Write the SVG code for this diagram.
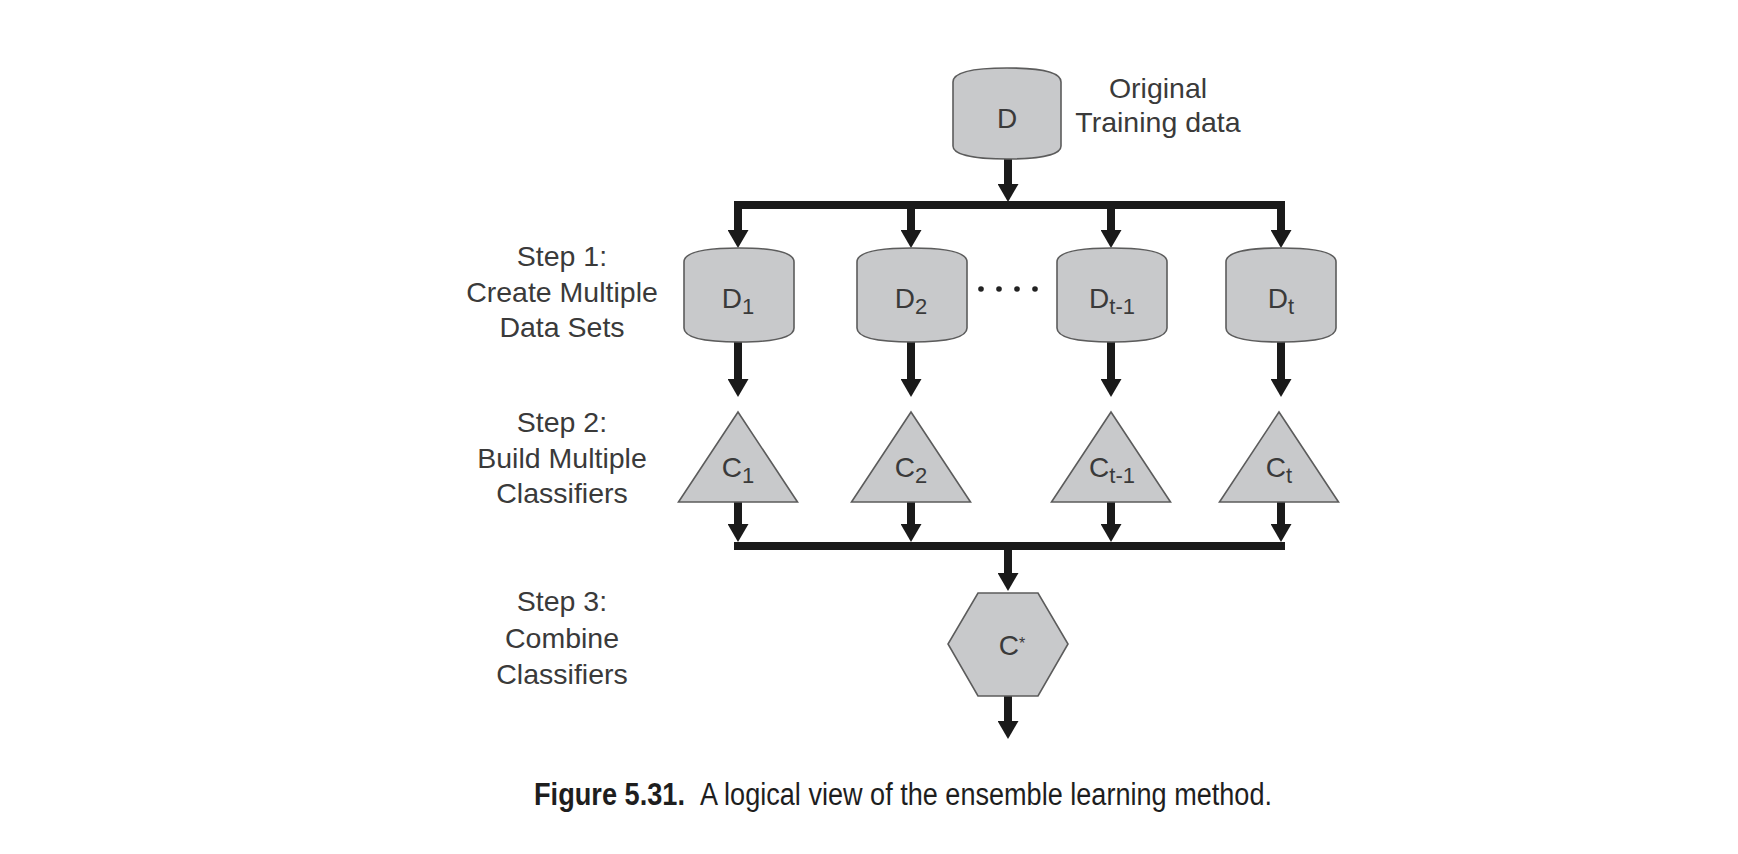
<svg xmlns="http://www.w3.org/2000/svg" xmlns:xlink="http://www.w3.org/1999/xlink" width="1738" height="854" viewBox="0 0 1738 854">
<style>
.shape{fill:#c8c9cb;stroke:#5c5c5c;stroke-width:1.6}
.conn{fill:none;stroke:#1a1a1a;stroke-width:8;marker-end:url(#ah)}
.bus{fill:none;stroke:#1a1a1a;stroke-width:8;stroke-linecap:square}
.nt{font-family:"Liberation Sans",Arial,sans-serif;font-size:28px;fill:#3a3a3a;text-anchor:middle}
.lbl{font-family:"Liberation Sans",Arial,sans-serif;font-size:28.5px;fill:#3a3a3a;text-anchor:middle}
.sub{font-size:22px}
.cap{font-family:"Liberation Sans",Arial,sans-serif;font-size:31px;fill:#1e1e1e}
</style>
<defs>
<marker id="ah" markerUnits="userSpaceOnUse" markerWidth="18" markerHeight="21" viewBox="0 0 18 21" refX="8" refY="10.5" orient="auto">
<path d="M0,0 L18,10.5 L0,21 Z" fill="#1a1a1a"/>
</marker>
<path id="cyl" d="M-55,14 C-55,3 -28,0 0,0 C28,0 55,3 55,14 V80 C55,91 28,94 0,94 C-28,94 -55,91 -55,80 Z"/>
</defs>
<rect width="1738" height="854" fill="#ffffff"/>

<g id="connectors">
<path class="conn" d="M1008,159 V192"/>
<path class="bus" d="M738,205 H1281"/>
<path class="conn" d="M738,205 V238"/>
<path class="conn" d="M911,205 V238"/>
<path class="conn" d="M1111,205 V238"/>
<path class="conn" d="M1281,205 V238"/>
<path class="conn" d="M738,342 V387"/>
<path class="conn" d="M911,342 V387"/>
<path class="conn" d="M1111,342 V387"/>
<path class="conn" d="M1281,342 V387"/>
<path class="conn" d="M738,502 V532"/>
<path class="conn" d="M911,502 V532"/>
<path class="conn" d="M1111,502 V532"/>
<path class="conn" d="M1281,502 V532"/>
<path class="bus" d="M738,546 H1281"/>
<path class="conn" d="M1008,546 V581"/>
<path class="conn" d="M1008,696 V729"/>
</g>

<g id="node-D">
<path class="shape" d="M953,82 C953,71 980,68 1007,68 C1034,68 1061,71 1061,82 V146 C1061,156 1034,159 1007,159 C980,159 953,156 953,146 Z"/>
<text class="nt" x="1007" y="128">D</text>
</g>
<g id="label-original">
<text class="lbl" x="1158" y="98">Original</text>
<text class="lbl" x="1158" y="132">Training data</text>
</g>

<g id="node-D1">
<use xlink:href="#cyl" class="shape" x="739" y="248"/>
<text class="nt" x="738" y="308">D<tspan class="sub" dy="6">1</tspan></text>
</g>
<g id="node-D2">
<use xlink:href="#cyl" class="shape" x="912" y="248"/>
<text class="nt" x="911" y="308">D<tspan class="sub" dy="6">2</tspan></text>
</g>
<g id="dots">
<circle cx="981" cy="289" r="2.8" fill="#222"/>
<circle cx="999" cy="289" r="2.8" fill="#222"/>
<circle cx="1017" cy="289" r="2.8" fill="#222"/>
<circle cx="1035" cy="289" r="2.8" fill="#222"/>
</g>
<g id="node-Dt-1">
<use xlink:href="#cyl" class="shape" x="1112" y="248"/>
<text class="nt" x="1112" y="308">D<tspan class="sub" dy="6">t-1</tspan></text>
</g>
<g id="node-Dt">
<use xlink:href="#cyl" class="shape" x="1281" y="248"/>
<text class="nt" x="1281" y="308">D<tspan class="sub" dy="6">t</tspan></text>
</g>

<g id="node-C1">
<polygon class="shape" points="738,412 678.5,502 797.5,502"/>
<text class="nt" x="738" y="477">C<tspan class="sub" dy="6">1</tspan></text>
</g>
<g id="node-C2">
<polygon class="shape" points="911,412 851.5,502 970.5,502"/>
<text class="nt" x="911" y="477">C<tspan class="sub" dy="6">2</tspan></text>
</g>
<g id="node-Ct-1">
<polygon class="shape" points="1111,412 1051.5,502 1170.5,502"/>
<text class="nt" x="1112" y="477">C<tspan class="sub" dy="6">t-1</tspan></text>
</g>
<g id="node-Ct">
<polygon class="shape" points="1279,412 1219.5,502 1338.5,502"/>
<text class="nt" x="1279" y="477">C<tspan class="sub" dy="6">t</tspan></text>
</g>

<g id="node-Cstar">
<polygon class="shape" points="978,593 1038,593 1068,644 1038,696 978,696 948,644"/>
<text class="nt" x="1012" y="655">C<tspan font-size="16" dy="-6">*</tspan></text>
</g>

<g id="step-labels">
<text class="lbl" x="562" y="266">Step 1:</text>
<text class="lbl" x="562" y="302">Create Multiple</text>
<text class="lbl" x="562" y="337">Data Sets</text>
<text class="lbl" x="562" y="432">Step 2:</text>
<text class="lbl" x="562" y="468">Build Multiple</text>
<text class="lbl" x="562" y="503">Classifiers</text>
<text class="lbl" x="562" y="611">Step 3:</text>
<text class="lbl" x="562" y="648">Combine</text>
<text class="lbl" x="562" y="684">Classifiers</text>
</g>

<g id="caption">
<text class="cap" x="534" y="805" font-weight="bold" textLength="151" lengthAdjust="spacingAndGlyphs">Figure 5.31.</text>
<text class="cap" x="700" y="805" textLength="572" lengthAdjust="spacingAndGlyphs">A logical view of the ensemble learning method.</text>
</g>
</svg>
